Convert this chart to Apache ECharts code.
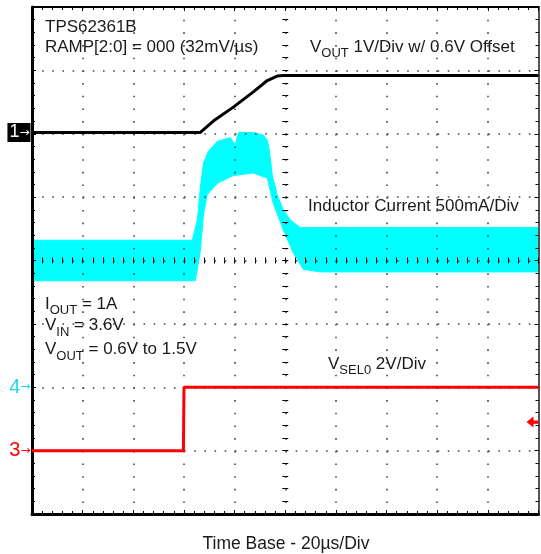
<!DOCTYPE html>
<html><head><meta charset="utf-8">
<script src="https://cdn.jsdelivr.net/npm/echarts@6/dist/echarts.min.js"></script>
<style>html,body{margin:0;padding:0;background:#fff}#c{width:541px;height:554px}</style>
</head><body><div id="c"></div>
<script>
// ---- data (time in µs, 20 µs/div) ----
const voutTime  = [-100, -33.5, -28.4, -20.5, -12.6, -7.1, -3.2, -0.8, 100];
const voutVolts = [0.6, 0.6, 0.78, 1.0, 1.24, 1.42, 1.49, 1.5, 1.5];

const vselTime  = [-100, -40.2, -40.0, 100];
const vselVolts = [0, 0, 2, 2];

// inductor current envelope (A)
const ilUpperTime = [-100, -36.7, -34.7, -33.5, -32.3, -30.4, -26.8, -21.7, -19.7, -18.5, -12.6, -8.7, -7.1, -6.3, -5.1, -3.2, -0.8, 2.0, 5.9, 100];
const ilUpperAmps = [1.16, 1.16, 1.32, 1.58, 1.77, 1.86, 1.94, 1.97, 1.91, 2.01, 2.01, 1.99, 1.95, 1.87, 1.67, 1.52, 1.40, 1.32, 1.26, 1.26];
const ilLowerTime = [-100, -35.5, -33.5, -32.3, -30.8, -26.8, -20.5, -12.6, -7.1, -4.7, -0.8, 3.2, 7.1, 13.8, 100];
const ilLowerAmps = [0.84, 0.84, 1.08, 1.36, 1.52, 1.61, 1.67, 1.69, 1.65, 1.45, 1.24, 1.06, 0.93, 0.91, 0.91];

const triggerLevelV = 0.9;

// ---- channel settings (position in div, units/div, offset) ----
const ch1 = {pos: 2.02, scale: 1, offset: 0.6};
const ch4 = {pos: -2, scale: 0.5, offset: 0};
const ch3 = {pos: -3, scale: 2, offset: 0};
function toDiv(ch, v) { return ch.pos + (v - ch.offset) / ch.scale; }

const FONT = '"Liberation Sans", Arial, Helvetica, sans-serif';
const ARROW_FONT = '"DejaVu Sans", sans-serif';
const TXT = '#1a1a1a';
const CYAN = '#00FFFF';
const RED = '#FF0000';
const MAIN_FS = 17, SUB_FS = 13;

function xAx(extra) {
  return Object.assign({
    type: 'value', min: -100, max: 100, interval: 20, z: 3,
    axisLabel: {show: false}, splitLine: {show: false},
    axisTick: {show: true, inside: true, length: 4, lineStyle: {color: '#000', width: 1}},
    minorTick: {show: true, splitNumber: 5, length: 3, lineStyle: {color: '#000', width: 1}}
  }, extra);
}
function yAx(extra) {
  return Object.assign({
    type: 'value', min: -4, max: 4, interval: 1, z: 3,
    axisLabel: {show: false}, splitLine: {show: false},
    axisTick: {show: true, inside: true, length: 4, lineStyle: {color: '#000', width: 1}},
    minorTick: {show: true, splitNumber: 5, length: 3, lineStyle: {color: '#000', width: 1}}
  }, extra);
}
const hidden = {color: '#000', opacity: 0};

const mctx = document.createElement('canvas').getContext('2d');
function tw(text, fs) { mctx.font = fs + 'px ' + FONT; return mctx.measureText(text).width; }

// text line with optional subscripts: parts = [[text, isSub], ...]
function sub(x, capCenter, parts) {
  const els = [];
  let cx = x;
  parts.forEach(p => {
    const fs = p[1] ? SUB_FS : MAIN_FS;
    els.push({
      type: 'text', x: cx, y: p[1] ? capCenter + 6.6 : capCenter + 0.2, z: 100,
      style: {text: p[0], align: 'left', verticalAlign: 'middle', fontSize: fs, fontFamily: FONT, fill: TXT}
    });
    cx += tw(p[0], fs);
  });
  return els;
}

const texts = [].concat(
  sub(45, 27.3, [['TPS62361B', 0]]),
  sub(45, 46.7, [['RAMP[2:0] = 000 (32mV/µs)', 0]]),
  sub(310, 46.7, [['V', 0], ['OUT', 1], [' 1V/Div w/ 0.6V Offset', 0]]),
  sub(308, 206, [['Inductor Current 500mA/Div', 0]]),
  sub(45, 304, [['I', 0], ['OUT', 1], [' = 1A', 0]]),
  sub(45, 325.5, [['V', 0], ['IN', 1], [' = 3.6V', 0]]),
  sub(45, 349.5, [['V', 0], ['OUT', 1], [' = 0.6V to 1.5V', 0]]),
  sub(328, 364, [['V', 0], ['SEL0', 1], [' 2V/Div', 0]]),
  [{type: 'text', x: 286, y: 544.5, z: 100,
    style: {text: 'Time Base - 20µs/Div', align: 'center', verticalAlign: 'middle',
            fontSize: 17.5, fontFamily: FONT, fill: TXT}}]
);

function chLabel(txt, color, bg) {
  const lab = {show: true, position: 'left', distance: 1, formatter: '{n|' + txt + '}{a|→}',
    rich: {n: {color: color, fontSize: bg ? 18 : 20, fontFamily: FONT, lineHeight: 17},
           a: {color: color, fontSize: 12, fontFamily: ARROW_FONT, lineHeight: 17}}};
  if (bg) { lab.backgroundColor = bg; lab.padding = [1, 1, 1, 2]; }
  return lab;
}

const chart = echarts.init(document.getElementById('c'), null, {renderer: 'canvas'});
chart.setOption({
  animation: false,
  backgroundColor: '#fff',
  grid: {left: 32, top: 7, width: 506.5, height: 507, show: false},
  xAxis: [
    xAx({position: 'bottom', axisLine: {onZero: false, lineStyle: {color: '#000', width: 3}},
         splitLine: {show: true, lineStyle: {color: '#444', width: 1.6, type: [1.6, 11.08]}}}),
    xAx({position: 'top', axisLine: {onZero: false, lineStyle: {color: '#000', width: 2}}}),
    xAx({position: 'bottom', axisLine: {onZero: true, onZeroAxisIndex: 0, lineStyle: hidden},
         axisTick: {show: true, inside: true, length: 3, lineStyle: {color: '#000'}}}),
    xAx({position: 'top', axisLine: {onZero: true, onZeroAxisIndex: 0, lineStyle: hidden},
         axisTick: {show: true, inside: true, length: 3, lineStyle: {color: '#000'}}})
  ],
  yAxis: [
    yAx({position: 'left', axisLine: {onZero: false, lineStyle: {color: '#000', width: 3}},
         splitLine: {show: true, lineStyle: {color: '#444', width: 1.6, type: [1.6, 8.54]}}}),
    yAx({position: 'right', axisLine: {onZero: false, lineStyle: {color: '#555', width: 2}}}),
    yAx({position: 'left', axisLine: {onZero: true, onZeroAxisIndex: 0, lineStyle: hidden},
         axisTick: {show: true, inside: true, length: 3, lineStyle: {color: '#000'}}}),
    yAx({position: 'right', axisLine: {onZero: true, onZeroAxisIndex: 0, lineStyle: hidden},
         axisTick: {show: true, inside: true, length: 3, lineStyle: {color: '#000'}}})
  ],
  series: [
    {
      name: 'Inductor Current', type: 'custom', xAxisIndex: 0, yAxisIndex: 0, z: 2,
      data: [[0, 0]], encode: {x: 0, y: 1}, clip: true,
      renderItem: function (params, api) {
        const pts = [];
        for (let i = 0; i < ilUpperTime.length; i++) pts.push(api.coord([ilUpperTime[i], toDiv(ch4, ilUpperAmps[i])]));
        for (let i = ilLowerTime.length - 1; i >= 0; i--) pts.push(api.coord([ilLowerTime[i], toDiv(ch4, ilLowerAmps[i])]));
        return {type: 'polygon', shape: {points: pts}, style: {fill: CYAN, stroke: CYAN, lineWidth: 1}};
      }
    },
    {
      name: 'VOUT', type: 'line', xAxisIndex: 0, yAxisIndex: 0, z: 5,
      showSymbol: false, symbol: 'none',
      lineStyle: {color: '#000', width: 3},
      data: voutTime.map((t, i) => [t, toDiv(ch1, voutVolts[i])])
    },
    {
      name: 'VSEL0', type: 'line', xAxisIndex: 0, yAxisIndex: 0, z: 5,
      showSymbol: false, symbol: 'none',
      lineStyle: {color: RED, width: 3},
      data: vselTime.map((t, i) => [t, toDiv(ch3, vselVolts[i])]),
      markPoint: {
        silent: true,
        data: [
          {coord: [-100, ch1.pos], symbol: 'rect', symbolSize: 1, itemStyle: {color: 'rgba(0,0,0,0)'},
           label: chLabel('1', '#fff', '#000')},
          {coord: [-100, ch4.pos], symbol: 'rect', symbolSize: 1, itemStyle: {color: 'rgba(0,0,0,0)'},
           label: chLabel('4', '#1fd6f2')},
          {coord: [-100, ch3.pos], symbol: 'rect', symbolSize: 1, itemStyle: {color: 'rgba(0,0,0,0)'},
           label: chLabel('3', RED)},
          {coord: [100, toDiv(ch3, triggerLevelV)],
           symbol: 'path://M0,5L7,0L7,3.5L12,3.5L12,6.5L7,6.5L7,10Z', symbolSize: [12, 11], symbolOffset: [-6, 0],
           itemStyle: {color: RED}, label: {show: false}}
        ]
      }
    }
  ],
  graphic: texts
});
</script>
</body></html>
